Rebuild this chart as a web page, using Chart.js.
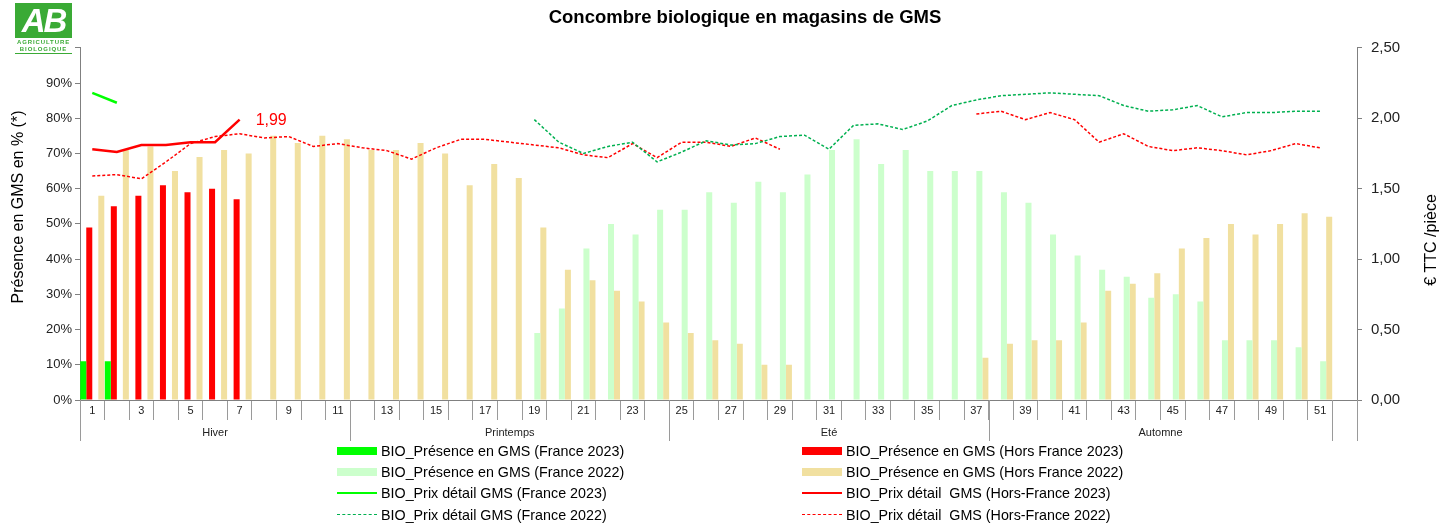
<!DOCTYPE html>
<html><head><meta charset="utf-8">
<script src="https://cdn.jsdelivr.net/npm/chart.js@4/dist/chart.umd.min.js"></script>
<style>
html,body{margin:0;padding:0;background:#fff;}
#wrap{position:relative;width:1451px;height:525px;overflow:hidden;font-family:"Liberation Sans",Arial,sans-serif;}
#c{position:absolute;left:0;top:0;}
#logo{position:absolute;left:15px;top:3px;width:57px;}
#logo .box{width:57px;height:35px;background:#3AAA35;color:#fff;font:italic bold 33px "Liberation Sans",Arial,sans-serif;text-align:center;line-height:36px;letter-spacing:-2px;}
#logo .t{color:#3AAA35;font:bold 6px "Liberation Sans",Arial,sans-serif;text-align:center;letter-spacing:0.9px;line-height:6px;margin-top:1px;}
#logo .t2{border-bottom:1.5px solid #3AAA35;padding-bottom:1px;}
.lg{position:absolute;font-size:14.3px;color:#000;white-space:pre;line-height:18px;}
.mk{position:absolute;}
</style></head><body>
<div id="wrap">
<canvas id="c" width="1451" height="525"></canvas>
<div id="logo"><div class="box">AB</div><div class="t">AGRICULTURE</div><div class="t t2">BIOLOGIQUE</div></div>
<div id="legend"></div>
</div>
<script>
const weeks = ['1','2','3','4','5','6','7','8','9','10','11','12','13','14','15','16','17','18','19','20','21','22','23','24','25','26','27','28','29','30','31','32','33','34','35','36','37','38','39','40','41','42','43','44','45','46','47','48','49','50','51','52'];

const seasonNames = ['Hiver','Printemps','Eté','Automne'];
const seasonStart = [1,12,25,38];
const seasonEnd = [11,24,37,51];

// Présence en GMS (%)
const presFr2023 = [11,11,null,null,null,null,null,null,null,null,null,null,null,null,null,null,null,null,null,null,null,null,null,null,null,null,null,null,null,null,null,null,null,null,null,null,null,null,null,null,null,null,null,null,null,null,null,null,null,null,null,null];
const presHF2023 = [49,55,58,61,59,60,57,null,null,null,null,null,null,null,null,null,null,null,null,null,null,null,null,null,null,null,null,null,null,null,null,null,null,null,null,null,null,null,null,null,null,null,null,null,null,null,null,null,null,null,null,null];
const presFr2022 = [null,null,null,null,null,null,null,null,null,null,null,null,null,null,null,null,null,null,19,26,43,50,47,54,54,59,56,62,59,64,71,74,67,71,65,65,65,59,56,47,41,37,35,29,30,28,17,17,17,15,11,null];
const presHF2022 = [58,71,72,65,69,71,70,75,73,75,74,71,71,73,70,61,67,63,49,37,34,31,28,22,19,17,16,10,10,null,null,null,null,null,null,null,12,16,17,17,22,31,33,36,43,46,50,47,50,53,52,null];

// Prix détail (€ TTC / pièce)
const prixFr2023 = [2.18,2.11,null,null,null,null,null,null,null,null,null,null,null,null,null,null,null,null,null,null,null,null,null,null,null,null,null,null,null,null,null,null,null,null,null,null,null,null,null,null,null,null,null,null,null,null,null,null,null,null,null,null];
const prixHF2023 = [1.78,1.76,1.81,1.81,1.83,1.83,1.99,null,null,null,null,null,null,null,null,null,null,null,null,null,null,null,null,null,null,null,null,null,null,null,null,null,null,null,null,null,null,null,null,null,null,null,null,null,null,null,null,null,null,null,null,null];
const prixFr2022 = [null,null,null,null,null,null,null,null,null,null,null,null,null,null,null,null,null,null,1.99,1.83,1.75,1.80,1.83,1.69,1.76,1.84,1.81,1.82,1.87,1.88,1.78,1.95,1.96,1.92,1.98,2.09,2.13,2.16,2.17,2.18,2.17,2.16,2.09,2.05,2.06,2.09,2.01,2.04,2.04,2.05,2.05,null];
const prixHF2022 = [1.59,1.60,1.57,1.69,1.82,1.87,1.89,1.86,1.87,1.80,1.82,1.79,1.77,1.71,1.79,1.85,1.85,1.83,1.81,1.79,1.74,1.72,1.82,1.72,1.83,1.83,1.80,1.86,1.78,null,null,null,null,null,null,null,2.03,2.05,1.99,2.04,1.99,1.83,1.89,1.80,1.77,1.79,1.77,1.74,1.77,1.82,1.79,null];

const FONT = '"Liberation Sans", Arial, sans-serif';
const GREEN = '#00FF00', RED = '#FF0000', LGREEN = '#CCFFCC', WHEAT = '#F1E0A0', DGREEN = '#00B050';

const datasets = [
  {type:'line', label:'BIO_Prix détail GMS (France 2023)', data:prixFr2023, yAxisID:'y2', borderColor:GREEN, backgroundColor:GREEN, borderWidth:2.5, pointRadius:0, tension:0, spanGaps:false, kind:'solid'},
  {type:'line', label:'BIO_Prix détail  GMS (Hors-France 2023)', data:prixHF2023, yAxisID:'y2', borderColor:RED, backgroundColor:RED, borderWidth:2.5, pointRadius:0, tension:0, spanGaps:false, kind:'solid'},
  {type:'line', label:'BIO_Prix détail GMS (France 2022)', data:prixFr2022, yAxisID:'y2', borderColor:DGREEN, backgroundColor:DGREEN, borderWidth:1.5, borderDash:[3,2], pointRadius:0, tension:0, spanGaps:false, kind:'dash'},
  {type:'line', label:'BIO_Prix détail  GMS (Hors-France 2022)', data:prixHF2022, yAxisID:'y2', borderColor:RED, backgroundColor:RED, borderWidth:1.5, borderDash:[3,2], pointRadius:0, tension:0, spanGaps:false, kind:'dash'},
  {type:'bar', label:'BIO_Présence en GMS (France 2023)', data:presFr2023, yAxisID:'y', backgroundColor:GREEN, kind:'bar'},
  {type:'bar', label:'BIO_Présence en GMS (Hors France 2023)', data:presHF2023, yAxisID:'y', backgroundColor:RED, kind:'bar'},
  {type:'bar', label:'BIO_Présence en GMS (France 2022)', data:presFr2022, yAxisID:'y', backgroundColor:LGREEN, kind:'bar'},
  {type:'bar', label:'BIO_Présence en GMS (Hors France 2022)', data:presHF2022, yAxisID:'y', backgroundColor:WHEAT, kind:'bar'}
];

const decor = {
  id:'decor',
  afterDraw(chart){
    const ctx = chart.ctx, a = chart.chartArea, x = chart.scales.x;
    const cw = x.getPixelForValue(1) - x.getPixelForValue(0);
    const leftOf = w => x.getPixelForValue(w-1) - cw/2;
    const rightOf = w => x.getPixelForValue(w-1) + cw/2;
    ctx.save();
    // season separators
    ctx.strokeStyle = '#9a9a9a'; ctx.lineWidth = 1;
    const bounds = [leftOf(seasonStart[0])].concat(seasonEnd.map(rightOf)).concat([a.right]);
    bounds.forEach(bx => {
      const px = Math.round(bx) + 0.5;
      ctx.beginPath(); ctx.moveTo(px, a.bottom); ctx.lineTo(px, a.bottom + 41); ctx.stroke();
    });
    ctx.fillStyle = '#222'; ctx.font = '11px ' + FONT; ctx.textAlign = 'center'; ctx.textBaseline = 'middle';
    seasonNames.forEach((n,i) => {
      const cx = (leftOf(seasonStart[i]) + rightOf(seasonEnd[i])) / 2;
      ctx.fillText(n, cx, a.bottom + 33);
    });
    // main title
    ctx.fillStyle = '#000'; ctx.font = 'bold 18.5px ' + FONT;
    ctx.fillText('Concombre biologique en magasins de GMS', 745, 18);
    // axis titles
    ctx.font = '16px ' + FONT;
    ctx.save(); ctx.translate(19, 207); ctx.rotate(-Math.PI/2); ctx.fillText('Présence en GMS en % (*)', 0, 0); ctx.restore();
    ctx.save(); ctx.translate(1432, 240); ctx.rotate(-Math.PI/2); ctx.fillText('€ TTC /pièce', 0, 0); ctx.restore();
    // data label on last 2023 Hors-France price
    const meta = chart.getDatasetMeta(1);
    let li = -1; prixHF2023.forEach((v,i) => { if (v !== null) li = i; });
    const pt = meta.data[li];
    ctx.fillStyle = RED; ctx.font = '16px ' + FONT; ctx.textAlign = 'left';
    ctx.fillText(prixHF2023[li].toFixed(2).replace('.', ','), pt.x + 16, pt.y + 1);
    ctx.restore();
  }
};

const chart = new Chart(document.getElementById('c'), {
  type:'bar',
  data:{labels:weeks, datasets:datasets},
  options:{
    responsive:false, animation:false, devicePixelRatio:1,
    layout:{padding:{top:47.8, left:0, right:0, bottom:0}},
    datasets:{bar:{categoryPercentage:0.98, barPercentage:1.0}},
    plugins:{legend:{display:false}, title:{display:false}, tooltip:{enabled:false}},
    scales:{
      x:{
        type:'category', offset:true,
        grid:{display:true, offset:true, drawOnChartArea:false, drawTicks:true, tickLength:20, color:'#9a9a9a'},
        border:{display:true, color:'#808080', width:1},
        ticks:{autoSkip:false, maxRotation:0, minRotation:0, padding:-16, color:'#222', font:{size:11, family:FONT},
          callback:(v,i) => (i % 2 === 0 ? weeks[i] : '')},
        afterFit:s => { s.height = 125; }
      },
      y:{
        position:'left', min:0, max:100,
        ticks:{stepSize:10, padding:3, color:'#222', font:{size:13, family:FONT}, callback:v => (v === 100 ? '' : v + '%')},
        grid:{drawOnChartArea:false, drawTicks:true, tickLength:5, color:'#808080'},
        border:{display:true, color:'#808080'},
        afterFit:s => { s.width = 80; }
      },
      y2:{
        position:'right', min:0, max:2.5,
        ticks:{stepSize:0.5, padding:9, color:'#222', font:{size:15, family:FONT}, callback:v => v.toFixed(2).replace('.', ',')},
        grid:{drawOnChartArea:false, drawTicks:true, tickLength:5, color:'#808080'},
        border:{display:true, color:'#808080'},
        afterFit:s => { s.width = 94; }
      }
    }
  },
  plugins:[decor]
});

// HTML legend built from the chart datasets (2 columns x 4 rows)
const legendOrder = [4,5,6,7,0,1,2,3];
const rowsY = [451,472,493,515];
const colMarkerX = [337,802];
const colTextX = [381,846];
const lg = document.getElementById('legend');
legendOrder.forEach((di, k) => {
  const ds = chart.data.datasets[di];
  const row = Math.floor(k/2), col = k % 2;
  const cy = rowsY[row];
  const mk = document.createElement('div');
  mk.className = 'mk';
  mk.style.left = colMarkerX[col] + 'px';
  mk.style.width = '40px';
  if (ds.kind === 'bar') {
    mk.style.top = (cy - 4) + 'px'; mk.style.height = '8px'; mk.style.background = ds.backgroundColor;
  } else if (ds.kind === 'solid') {
    mk.style.top = (cy - 1.5) + 'px'; mk.style.height = '0px'; mk.style.borderTop = '2.5px solid ' + ds.borderColor;
  } else {
    mk.style.top = (cy - 1) + 'px'; mk.style.height = '0px'; mk.style.borderTop = '1.5px dashed ' + ds.borderColor;
  }
  lg.appendChild(mk);
  const t = document.createElement('div');
  t.className = 'lg';
  t.style.left = colTextX[col] + 'px';
  t.style.top = (cy - 9) + 'px';
  t.textContent = ds.label;
  lg.appendChild(t);
});
</script>
</body></html>
